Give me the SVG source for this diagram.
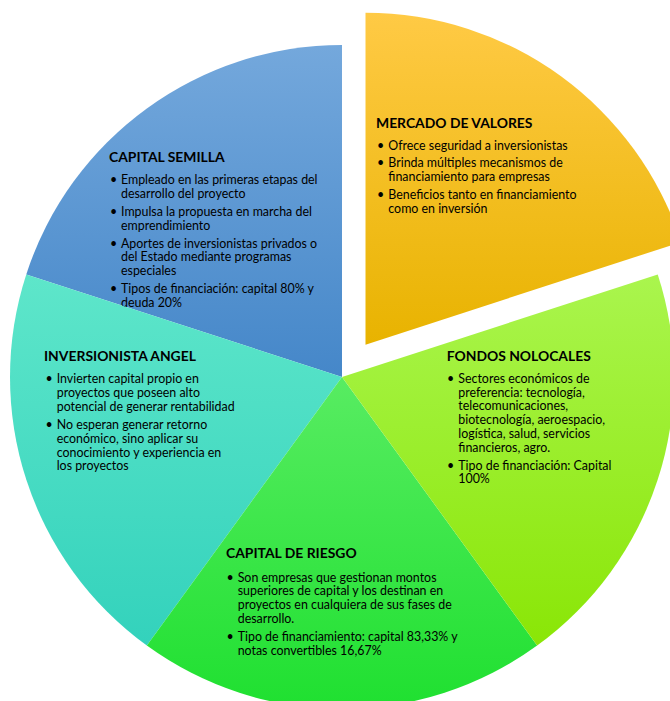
<svg xmlns="http://www.w3.org/2000/svg" width="670" height="701" viewBox="0 0 670 701">
<defs>
<linearGradient id="gBlue" x1="0" y1="0" x2="0" y2="1"><stop offset="0" stop-color="#74A8DC"/><stop offset="1" stop-color="#4587C9"/></linearGradient>
<linearGradient id="gTeal" x1="0" y1="0" x2="0" y2="1"><stop offset="0" stop-color="#5EE6CA"/><stop offset="1" stop-color="#33D2BC"/></linearGradient>
<linearGradient id="gGreen" x1="0" y1="0" x2="0" y2="1"><stop offset="0" stop-color="#58EC62"/><stop offset="1" stop-color="#1FE030"/></linearGradient>
<linearGradient id="gLime" x1="0" y1="0" x2="0" y2="1"><stop offset="0" stop-color="#AAF54E"/><stop offset="1" stop-color="#8AE606"/></linearGradient>
<linearGradient id="gGold" x1="0" y1="0" x2="0" y2="1"><stop offset="0" stop-color="#FFCA45"/><stop offset="1" stop-color="#E8B300"/></linearGradient>
</defs>
<style>
.t{font-family:Lato,"Liberation Sans",sans-serif;font-size:13.9px;font-weight:bold;fill:#000}
.b{font-family:Lato,"Liberation Sans",sans-serif;font-size:12.4px;fill:#000}
</style>
<rect width="670" height="701" fill="#fff"/>
<g id="capital-semilla">
<path d="M342,377 L26.25,274.41 A332,332 0 0 1 342,45 Z" fill="url(#gBlue)"/>
<text class="t" x="109" y="162">CAPITAL SEMILLA</text>
<text class="b">
<tspan x="110" y="184.3">•</tspan><tspan x="121" y="184.3">Empleado en las primeras etapas del</tspan>
<tspan x="121" y="198.1">desarrollo del proyecto</tspan>
<tspan x="110" y="215.9">•</tspan><tspan x="121" y="215.9">Impulsa la propuesta en marcha del</tspan>
<tspan x="121" y="229.7">emprendimiento</tspan>
<tspan x="110" y="247.5">•</tspan><tspan x="121" y="247.5">Aportes de inversionistas privados o</tspan>
<tspan x="121" y="261.3">del Estado mediante programas</tspan>
<tspan x="121" y="275.1">especiales</tspan>
<tspan x="110" y="292.9">•</tspan><tspan x="121" y="292.9">Tipos de financiación: capital 80% y</tspan>
<tspan x="121" y="306.7">deuda 20%</tspan>
</text>
</g>
<g id="inversionista-angel">
<path d="M342,377 L146.85,645.59 A332,332 0 0 1 26.25,274.41 Z" fill="url(#gTeal)"/>
<text class="t" x="44" y="361">INVERSIONISTA ANGEL</text>
<text class="b">
<tspan x="45.5" y="383.3">•</tspan><tspan x="56.7" y="383.3">Invierten capital propio en</tspan>
<tspan x="56.7" y="397.1">proyectos que poseen alto</tspan>
<tspan x="56.7" y="410.9">potencial de generar rentabilidad</tspan>
<tspan x="45.5" y="428.9">•</tspan><tspan x="56.7" y="428.9">No esperan generar retorno</tspan>
<tspan x="56.7" y="442.7">económico, sino aplicar su</tspan>
<tspan x="56.7" y="456.5">conocimiento y experiencia en</tspan>
<tspan x="56.7" y="470.3">los proyectos</tspan>
</text>
</g>
<g id="capital-de-riesgo">
<path d="M342,377 L537.15,645.59 A332,332 0 0 1 146.85,645.59 Z" fill="url(#gGreen)"/>
<text class="t" x="226" y="558.3">CAPITAL DE RIESGO</text>
<text class="b">
<tspan x="226.5" y="581.5">•</tspan><tspan x="237.7" y="581.5">Son empresas que gestionan montos</tspan>
<tspan x="237.7" y="595.3">superiores de capital y los destinan en</tspan>
<tspan x="237.7" y="609.1">proyectos en cualquiera de sus fases de</tspan>
<tspan x="237.7" y="622.9">desarrollo.</tspan>
<tspan x="226.5" y="640.9">•</tspan><tspan x="237.7" y="640.9">Tipo de financiamiento: capital 83,33% y</tspan>
<tspan x="237.7" y="654.7">notas convertibles 16,67%</tspan>
</text>
</g>
<g id="fondos-nolocales">
<path d="M342,377 L657.75,274.41 A332,332 0 0 1 537.15,645.59 Z" fill="url(#gLime)"/>
<text class="t" x="446.7" y="361">FONDOS NOLOCALES</text>
<text class="b">
<tspan x="447" y="382.7">•</tspan><tspan x="458.3" y="382.7">Sectores económicos de</tspan>
<tspan x="458.3" y="396.5">preferencia: tecnología,</tspan>
<tspan x="458.3" y="410.3">telecomunicaciones,</tspan>
<tspan x="458.3" y="424.1">biotecnología, aeroespacio,</tspan>
<tspan x="458.3" y="437.9">logística, salud, servicios</tspan>
<tspan x="458.3" y="451.7">financieros, agro.</tspan>
<tspan x="447" y="469.5">•</tspan><tspan x="458.3" y="469.5">Tipo de financiación: Capital</tspan>
<tspan x="458.3" y="483.3">100%</tspan>
</text>
</g>
<g id="mercado-de-valores">
<path d="M365.51,344.64 L365.51,12.64 A332,332 0 0 1 681.26,242.05 Z" fill="url(#gGold)"/>
<text class="t" x="376" y="128">MERCADO DE VALORES</text>
<text class="b">
<tspan x="377" y="150">•</tspan><tspan x="388.3" y="150">Ofrece seguridad a inversionistas</tspan>
<tspan x="377" y="167.4">•</tspan><tspan x="388.3" y="167.4">Brinda múltiples mecanismos de</tspan>
<tspan x="388.3" y="181.2">financiamiento para empresas</tspan>
<tspan x="377" y="198.8">•</tspan><tspan x="388.3" y="198.8">Beneficios tanto en financiamiento</tspan>
<tspan x="388.3" y="212.6">como en inversión</tspan>
</text>
</g>
</svg>
